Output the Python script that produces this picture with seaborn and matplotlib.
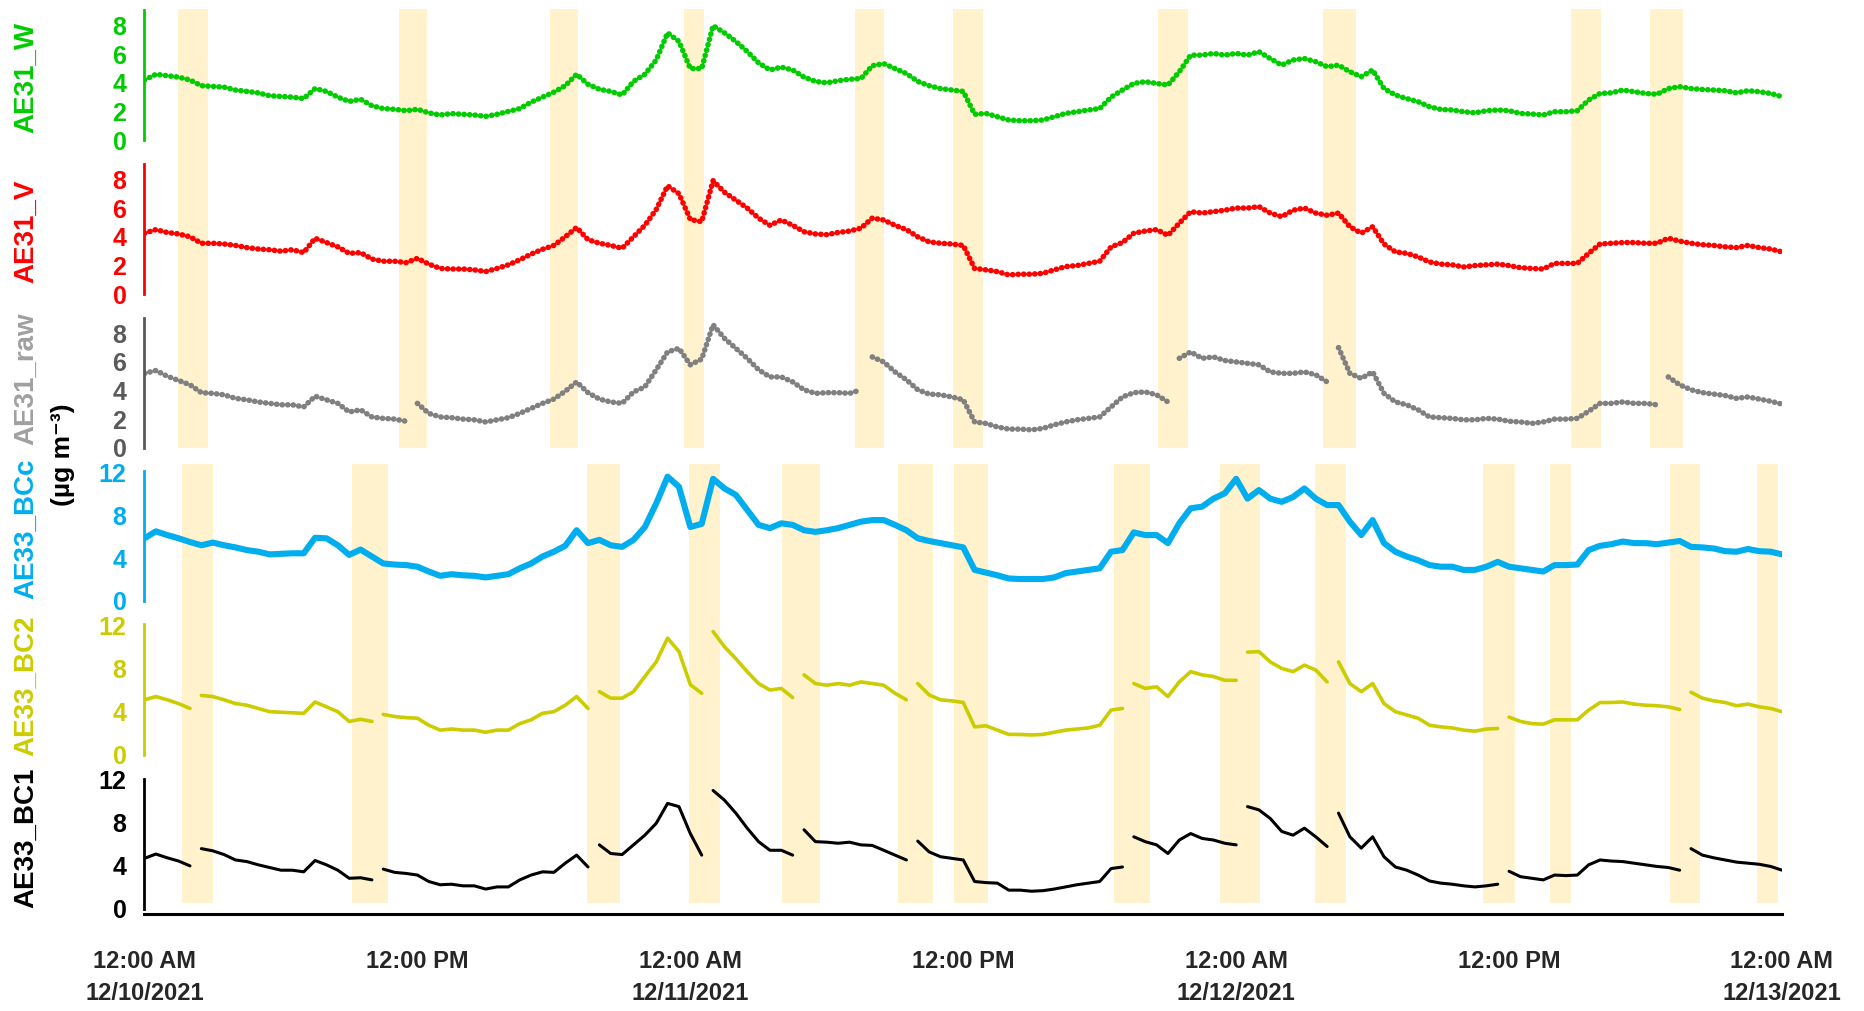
import numpy as np
import pandas as pd
import matplotlib
matplotlib.use("Agg")
import matplotlib.pyplot as plt
from matplotlib.ticker import FixedLocator
import seaborn as sns

# ---------------- data (half-hour grid, hours since 12/10/2021 00:00) ----------------
hours = np.arange(0, 72.01, 0.5)

ae31_w = [
    4.2, 4.6, 4.5, 4.4, 4.2, 3.8, 3.75, 3.7, 3.5, 3.4, 3.3, 3.1,
    3.05, 3.0, 2.9, 3.6, 3.4, 3.0, 2.7, 2.85, 2.4, 2.2, 2.15, 2.05,
    2.15, 1.9, 1.75, 1.85, 1.8, 1.75, 1.65, 1.8, 2.0, 2.2, 2.65, 3.0,
    3.35, 3.8, 4.6, 3.9, 3.55, 3.4, 3.15, 4.1, 4.6, 5.6, 7.5, 6.9,
    5.0, 5.0, 8.0, 7.5, 6.9, 6.2, 5.4, 4.9, 5.1, 4.9, 4.4, 4.1,
    4.0, 4.15, 4.25, 4.3, 5.2, 5.35, 5.0, 4.65, 4.1, 3.8, 3.6, 3.5,
    3.4, 1.8, 1.86, 1.63, 1.4, 1.35, 1.35, 1.4, 1.63, 1.86, 1.98, 2.1,
    2.2, 3.0, 3.5, 3.96, 4.08, 3.96, 3.85, 4.78, 5.94, 5.94, 6.06, 5.94,
    6.06, 5.94, 6.18, 5.7, 5.24, 5.6, 5.7, 5.48, 5.13, 5.24, 4.78, 4.43,
    4.9, 3.6, 3.15, 2.9, 2.68, 2.33, 2.14, 2.1, 1.98, 1.9, 2.05, 2.1,
    2.05, 1.86, 1.82, 1.75, 1.98, 1.98, 2.05, 2.8, 3.26, 3.3, 3.5, 3.38,
    3.26, 3.2, 3.6, 3.73, 3.6, 3.54, 3.5, 3.45, 3.3, 3.45, 3.38, 3.26,
    3.03]

ae31_v = [
    4.25, 4.5, 4.3, 4.2, 4.0, 3.55, 3.55, 3.5, 3.4, 3.25, 3.15, 3.1,
    3.0, 3.1, 2.9, 3.9, 3.6, 3.3, 2.85, 2.9, 2.45, 2.3, 2.3, 2.2,
    2.5, 2.1, 1.8, 1.76, 1.76, 1.7, 1.58, 1.8, 2.05, 2.4, 2.8, 3.13,
    3.4, 4.0, 4.65, 3.8, 3.55, 3.4, 3.2, 4.0, 4.8, 5.9, 7.55, 7.0,
    5.2, 5.05, 7.9, 7.1, 6.55, 6.0, 5.3, 4.8, 5.17, 4.8, 4.35, 4.2,
    4.15, 4.3, 4.4, 4.6, 5.3, 5.17, 4.8, 4.5, 4.0, 3.65, 3.55, 3.5,
    3.4, 1.8, 1.7, 1.58, 1.35, 1.4, 1.4, 1.46, 1.7, 1.93, 2.0, 2.15,
    2.3, 3.3, 3.6, 4.25, 4.4, 4.5, 4.1, 4.95, 5.75, 5.65, 5.75, 5.85,
    6.0, 6.0, 6.1, 5.65, 5.4, 5.85, 6.0, 5.65, 5.5, 5.65, 4.7, 4.25,
    4.7, 3.5, 2.95, 2.85, 2.6, 2.25, 2.1, 2.05, 1.9, 2.0, 2.05, 2.1,
    2.0, 1.85, 1.8, 1.76, 2.15, 2.15, 2.15, 2.85, 3.5, 3.55, 3.6, 3.6,
    3.55, 3.55, 3.9, 3.7, 3.55, 3.45, 3.4, 3.3, 3.25, 3.4, 3.25, 3.15,
    2.95]

ae31_raw = [
    5.2, 5.4, 5.0, 4.7, 4.4, 3.85, 3.8, 3.7, 3.45, 3.35, 3.2, 3.1,
    3.0, 3.0, 2.85, 3.6, 3.35, 3.1, 2.5, 2.65, 2.15, 2.05, 2.0, 1.85,
    3.1, 2.4, 2.15, 2.1, 2.0, 1.95, 1.8, 1.95, 2.1, 2.4, 2.75, 3.1,
    3.4, 3.95, 4.6, 3.85, 3.4, 3.2, 3.1, 3.9, 4.25, 5.45, 6.7, 6.95,
    5.8, 6.2, 8.6, 7.65, 6.95, 6.25, 5.45, 4.95, 4.95, 4.6, 4.05, 3.8,
    3.85, 3.85, 3.8, 4.05, 6.35, 6.0, 5.3, 4.75, 4.05, 3.75, 3.7, 3.55,
    3.35, 1.8, 1.7, 1.45, 1.3, 1.3, 1.25, 1.35, 1.6, 1.8, 1.95, 2.05,
    2.15, 2.85, 3.55, 3.85, 3.9, 3.7, 3.2, 6.25, 6.7, 6.25, 6.35, 6.1,
    6.0, 5.9, 5.8, 5.3, 5.2, 5.2, 5.3, 5.1, 4.6, 7.0, 5.2, 4.85,
    5.3, 3.8, 3.2, 3.0, 2.65, 2.15, 2.1, 2.05, 1.95, 1.95, 2.05, 2.0,
    1.85, 1.8, 1.7, 1.8, 2.0, 2.0, 2.05, 2.55, 3.1, 3.1, 3.2, 3.1,
    3.1, 3.0, 4.95, 4.4, 4.05, 3.85, 3.75, 3.65, 3.45, 3.55, 3.4, 3.25,
    3.05]

ae33_bcc = [
    5.85, 6.5, 6.15, 5.85, 5.5, 5.2, 5.45, 5.2, 5.0, 4.75, 4.6, 4.35,
    4.4, 4.45, 4.45, 5.9, 5.85, 5.2, 4.3, 4.8, 4.15, 3.5, 3.4, 3.35,
    3.2, 2.75, 2.35, 2.5, 2.4, 2.35, 2.2, 2.35, 2.5, 3.05, 3.5, 4.15,
    4.6, 5.15, 6.6, 5.4, 5.7, 5.2, 5.05, 5.7, 6.9, 9.1, 11.6, 10.65,
    6.9, 7.2, 11.4, 10.5, 9.9, 8.5, 7.1, 6.8, 7.25, 7.1, 6.6, 6.45,
    6.6, 6.8, 7.1, 7.4, 7.55, 7.55, 7.1, 6.6, 5.85, 5.6, 5.4, 5.2,
    5.0, 2.9, 2.65, 2.4, 2.1, 2.05, 2.05, 2.05, 2.2, 2.6, 2.75, 2.9,
    3.05, 4.6, 4.75, 6.4, 6.15, 6.15, 5.4, 7.25, 8.65, 8.8, 9.55, 10.05,
    11.4, 9.55, 10.35, 9.55, 9.25, 9.7, 10.5, 9.55, 8.95, 8.95, 7.4, 6.15,
    7.55, 5.4, 4.6, 4.15, 3.8, 3.35, 3.2, 3.2, 2.9, 2.9, 3.2, 3.65,
    3.2, 3.05, 2.9, 2.75, 3.35, 3.35, 3.4, 4.75, 5.15, 5.3, 5.55, 5.4,
    5.4, 5.3, 5.45, 5.6, 5.05, 5.0, 4.9, 4.65, 4.6, 4.85, 4.65, 4.6,
    4.35]

ae33_bc2 = [
    5.1, 5.4, 5.1, 4.75, 4.3, 5.5, 5.4, 5.1, 4.75, 4.6, 4.3, 4.0,
    3.95, 3.9, 3.85, 4.9, 4.45, 4.0, 3.1, 3.3, 3.1, 3.75, 3.55, 3.45,
    3.4, 2.75, 2.3, 2.4, 2.3, 2.3, 2.1, 2.3, 2.3, 2.9, 3.25, 3.85,
    4.0, 4.6, 5.4, 4.3, 5.85, 5.25, 5.25, 5.85, 7.25, 8.6, 10.8, 9.55,
    6.5, 5.7, 11.4, 10.0, 8.9, 7.7, 6.6, 6.0, 6.15, 5.3, 7.4, 6.6,
    6.45, 6.6, 6.45, 6.75, 6.6, 6.45, 5.7, 5.1, 6.6, 5.55, 5.1, 5.0,
    4.85, 2.6, 2.7, 2.3, 1.9, 1.9, 1.85, 1.9, 2.1, 2.3, 2.4, 2.5,
    2.75, 4.15, 4.3, 6.6, 6.15, 6.3, 5.4, 6.75, 7.7, 7.4, 7.25, 6.9,
    6.9, 9.5, 9.55, 8.6, 8.0, 7.7, 8.3, 7.85, 6.75, 8.6, 6.6, 5.85,
    6.6, 4.75, 4.0, 3.7, 3.4, 2.75, 2.6, 2.5, 2.3, 2.2, 2.4, 2.45,
    3.5, 3.1, 2.9, 2.85, 3.25, 3.25, 3.25, 4.15, 4.85, 4.85, 4.9, 4.7,
    4.6, 4.55, 4.45, 4.2, 5.8, 5.25, 5.0, 4.85, 4.55, 4.7, 4.45, 4.3,
    4.0]

ae33_bc1 = [
    4.7, 5.1, 4.75, 4.45, 4.0, 5.6, 5.4, 5.05, 4.55, 4.4, 4.1, 3.85,
    3.6, 3.6, 3.45, 4.5, 4.1, 3.6, 2.85, 2.9, 2.7, 3.7, 3.4, 3.3,
    3.15, 2.55, 2.25, 2.3, 2.15, 2.15, 1.85, 2.05, 2.05, 2.7, 3.15, 3.45,
    3.4, 4.25, 5.0, 3.9, 5.95, 5.15, 5.05, 5.95, 6.85, 7.95, 9.8, 9.5,
    7.0, 5.0, 11.0, 10.1, 8.9, 7.5, 6.25, 5.45, 5.45, 5.0, 7.35, 6.25,
    6.2, 6.1, 6.2, 5.95, 5.9, 5.45, 5.0, 4.55, 6.3, 5.3, 4.85, 4.7,
    4.55, 2.55, 2.45, 2.4, 1.75, 1.75, 1.65, 1.7, 1.85, 2.05, 2.25, 2.4,
    2.55, 3.75, 3.9, 6.7, 6.25, 5.95, 5.15, 6.4, 7.0, 6.55, 6.4, 6.1,
    5.95, 9.5, 9.2, 8.4, 7.2, 6.85, 7.5, 6.7, 5.8, 8.9, 6.7, 5.65,
    6.7, 4.85, 3.9, 3.6, 3.15, 2.6, 2.4, 2.3, 2.15, 2.05, 2.15, 2.3,
    3.5, 3.0, 2.85, 2.7, 3.15, 3.1, 3.15, 4.1, 4.55, 4.45, 4.4, 4.25,
    4.1, 3.95, 3.85, 3.6, 5.6, 5.0, 4.75, 4.55, 4.35, 4.25, 4.15, 3.95,
    3.6]

# times (h) where a record restarts after a filter change
ae31_raw_breaks = [11.75, 31.75, 45.25, 52.25, 66.75]
ae33_breaks = [2.25, 10.25, 19.75, 24.75, 28.75, 33.75, 43.25, 48.25, 52.25, 59.75, 67.75]

# shaded filter-change periods (start h, end h)
ae31_bands = [(1.48, 2.80), (11.18, 12.44), (17.83, 19.04), (23.73, 24.62), (31.24, 32.51),
              (35.53, 36.89), (44.58, 45.89), (51.84, 53.29), (62.73, 64.04), (66.19, 67.64)]
ae33_bands = [(1.67, 2.99), (9.13, 10.69), (19.47, 20.90), (23.92, 25.29), (28.01, 29.68),
              (33.15, 34.66), (35.58, 37.07), (42.61, 44.21), (47.31, 49.04), (51.46, 52.85),
              (58.85, 60.27), (61.79, 62.73), (67.06, 68.40), (70.89, 71.84)]

x_ticks = [0, 12, 24, 36, 48, 60, 72]
x_labels = ["12:00 AM\n12/10/2021", "12:00 PM", "12:00 AM\n12/11/2021", "12:00 PM",
            "12:00 AM\n12/12/2021", "12:00 PM", "12:00 AM\n12/13/2021"]

for arr in (ae31_w, ae31_v, ae31_raw, ae33_bcc, ae33_bc2, ae33_bc1):
    assert len(arr) == len(hours)

# ---------------- style ----------------
sns.set_style("white")
plt.rcParams["font.family"] = ["Liberation Sans", "DejaVu Sans"]
plt.rcParams["font.weight"] = "bold"

FW, FH = 1865, 1011
fig = plt.figure(figsize=(FW / 100, FH / 100), dpi=100)
XL, XR = 144.5 / FW, 1782 / FW


def axes_at(top, bottom):
    return fig.add_axes([XL, 1 - bottom / FH, XR - XL, (bottom - top) / FH])


def frame(vals, breaks=()):
    seg = np.searchsorted(np.asarray(breaks, float), hours)
    return pd.DataFrame({"hours": hours, "val": np.asarray(vals, float), "seg": seg})


BAND = "#FFF2CC"
for (top, bottom, bands) in [(9, 448, ae31_bands), (464, 903, ae33_bands)]:
    bg = axes_at(top, bottom)
    bg.set_zorder(0)
    for a, b in bands:
        bg.axvspan(a, b, color=BAND, lw=0)
    bg.set_xlim(0, 72)
    bg.set_ylim(0, 1)
    bg.axis("off")

panels = [
    # name, values, breaks, top px, bottom px, ymax, color, tick color, label color, kind
    ("AE31_W", ae31_w, (), 10, 140, 9.1, "#00CC00", "#00CC00", "#00CC00", "dot"),
    ("AE31_V", ae31_v, (), 163.5, 294.3, 9.1, "#FF0000", "#FF0000", "#FF0000", "dot"),
    ("AE31_raw", ae31_raw, ae31_raw_breaks, 317.6, 447.7, 9.1, "#808080", "#5A5A5A", "#A0A0A0", "dot"),
    ("AE33_BCc", ae33_bcc, (), 471.3, 601, 12.1, "#00AEEF", "#00AEEF", "#00AEEF", "thick"),
    ("AE33_BC2", ae33_bc2, ae33_breaks, 624, 755, 12.1, "#CCCC00", "#CCCC00", "#CCCC00", "mid"),
    ("AE33_BC1", ae33_bc1, ae33_breaks, 778.6, 909, 12.1, "#000000", "#000000", "#000000", "thin"),
]
label_centers = [77, 231, 379, 529, 686, 838]

for i, (name, vals, brk, top, bottom, ymax, col, tcol, lcol, kind) in enumerate(panels):
    ax = axes_at(top, bottom)
    ax.set_zorder(1)
    ax.patch.set_alpha(0)
    df = frame(vals, brk)
    kw = dict(data=df, x="hours", y="val", units="seg", estimator=None,
              color=col, ax=ax, legend=False)
    if kind == "dot":
        sns.lineplot(**kw, lw=4.0, linestyle=(0, (0.05, 0.95)), dash_capstyle="round")
    elif kind == "thick":
        sns.lineplot(**kw, lw=4.4, solid_capstyle="round")
    elif kind == "mid":
        sns.lineplot(**kw, lw=2.6)
    else:
        sns.lineplot(**kw, lw=2.2)
    ax.set_xlim(0, 72)
    ax.set_ylim(0, ymax)
    ax.set_xlabel("")
    ax.set_ylabel("")
    for s in ("top", "right"):
        ax.spines[s].set_visible(False)
    ax.spines["left"].set_color(tcol)
    ax.spines["left"].set_linewidth(2)
    ax.spines["left"].set_bounds(0, ymax)
    if ymax < 10:
        ax.yaxis.set_major_locator(FixedLocator([0, 2, 4, 6, 8]))
    else:
        ax.yaxis.set_major_locator(FixedLocator([0, 4, 8, 12]))
        ax.yaxis.set_minor_locator(FixedLocator([2, 6, 10]))
        ax.tick_params(axis="y", which="minor", direction="out", length=6, width=2, color=tcol)
    ax.tick_params(axis="y", which="major", direction="out", length=11, width=2,
                   color=tcol, labelcolor=tcol, labelsize=18, pad=2)
    if i < len(panels) - 1:
        ax.spines["bottom"].set_visible(False)
        ax.tick_params(axis="x", bottom=False, labelbottom=False)
    else:
        ax.spines["bottom"].set_position(("outward", 3.6))
        ax.spines["bottom"].set_linewidth(2.2)
        ax.spines["bottom"].set_color("black")
        ax.set_xticks(x_ticks)
        ax.set_xticklabels(x_labels)
        ax.tick_params(axis="x", direction="out", length=13, width=2.2, color="black",
                       labelsize=17, pad=13)
        for t in ax.get_xticklabels():
            t.set_linespacing(1.5)
    fig.text(26 / FW, 1 - label_centers[i] / FH, name, rotation=90, ha="center",
             va="center", fontsize=20, color=lcol, fontweight="bold")

fig.text(63 / FW, 1 - 455 / FH, "(µg m⁻³)", rotation=90, ha="center", va="center",
         fontsize=19, color="black", fontweight="bold")

fig.savefig("out.png", dpi=100)
